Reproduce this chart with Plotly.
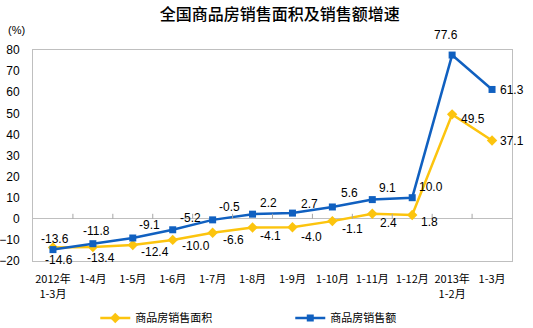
import plotly.graph_objects as go

# Periods (cumulative months) and year-on-year growth rates, %
categories = ["2012年<br>1-3月", "1-4月", "1-5月", "1-6月", "1-7月", "1-8月",
              "1-9月", "1-10月", "1-11月", "1-12月", "2013年<br>1-2月", "1-3月"]
area_growth = [-13.6, -13.4, -12.4, -10.0, -6.6, -4.1, -4.0, -1.1, 2.4, 1.8, 49.5, 37.1]
sales_growth = [-14.6, -11.8, -9.1, -5.2, -0.5, 2.2, 2.7, 5.6, 9.1, 10.0, 77.6, 61.3]
y_ticks = [-20, -10, 0, 10, 20, 30, 40, 50, 60, 70, 80]

area_name = "商品房销售面积"
sales_name = "商品房销售额"

YELLOW = "#FCC40E"
BLUE = "#1060C0"
FONT = "Liberation Sans, Noto Sans CJK SC, sans-serif"

# label offsets in pixels (right, down) from each point
area_off = [(2, -9), (8, 11), (22, 7), (23, 6), (21, 7), (18, 9), (19, 10),
            (20, 8), (16, 9), (17, 7), (21, 5), (20, 0)]
sales_off = [(6, 10), (4, -13), (17, -13), (18, -12), (17, -13), (16, -11),
             (17, -9), (17, -14), (15, -12), (19, -11), (-6, -20), (20, 1)]

xs = list(range(len(categories)))

fig = go.Figure()
fig.add_trace(go.Scatter(
    x=xs, y=area_growth, name=area_name, mode="lines+markers",
    line=dict(color=YELLOW, width=2.5),
    marker=dict(symbol="diamond", size=8, color=YELLOW),
))
fig.add_trace(go.Scatter(
    x=xs, y=sales_growth, name=sales_name, mode="lines+markers",
    line=dict(color=BLUE, width=2.5),
    marker=dict(symbol="square", size=7, color=BLUE),
))

annotations = []
for vals, offs in ((area_growth, area_off), (sales_growth, sales_off)):
    for i, (v, (dx, dy)) in enumerate(zip(vals, offs)):
        annotations.append(dict(
            x=xs[i], y=v, xref="x", yref="y", text=f"{v:.1f}",
            showarrow=False, xshift=dx, yshift=-dy,
            font=dict(family=FONT, size=12, color="#000000"),
        ))

annotations.append(dict(
    x=-0.034, y=1.095, xref="paper", yref="paper", text="(%)",
    showarrow=False, xanchor="center", yanchor="middle",
    font=dict(family=FONT, size=11, color="#000000"),
))

# small tick marks on the zero line between categories
shapes = []
for i in range(len(categories) - 1):
    shapes.append(dict(
        type="line", xref="x", yref="y", x0=i + 0.5, x1=i + 0.5,
        ysizemode="pixel", yanchor=0, y0=0, y1=5,
        line=dict(color="#A6A6A6", width=1),
    ))

fig.update_layout(
    width=533, height=328,
    margin=dict(l=33, r=21, t=50, b=67, autoexpand=False),
    paper_bgcolor="white", plot_bgcolor="white",
    title=dict(text="全国商品房销售面积及销售额增速", x=0.525, xanchor="center",
               y=0.955, yanchor="middle",
               font=dict(family="Noto Sans CJK SC", size=16, weight=500,
                         color="#000000")),
    font=dict(family=FONT, size=11, color="#000000"),
    showlegend=True,
    legend=dict(orientation="h", x=0.13, xanchor="left", y=-0.27, yanchor="middle",
                entrywidth=150, entrywidthmode="pixels",
                font=dict(family="Noto Sans CJK SC", size=11, color="#000000"),
                itemwidth=30),
    annotations=annotations,
    shapes=shapes,
)
fig.update_xaxes(
    range=[-0.5, len(categories) - 0.5], tickmode="array", tickvals=xs,
    ticktext=categories, showgrid=False, zeroline=False, automargin=False,
    showline=True, mirror=True, linecolor="#BFBFBF", linewidth=1,
    ticks="", ticklabelstandoff=8, tickangle=0,
    tickfont=dict(family="Noto Sans CJK SC, Liberation Sans", size=11),
)
fig.update_yaxes(
    range=[-20, 80], tickmode="array", tickvals=y_ticks, showgrid=False,
    zeroline=True, zerolinecolor="#BFBFBF", zerolinewidth=1, automargin=False,
    showline=True, mirror=True, linecolor="#BFBFBF", linewidth=1,
    ticks="", ticklabelstandoff=10,
    tickfont=dict(family=FONT, size=12),
)

fig.write_html("out.html")
